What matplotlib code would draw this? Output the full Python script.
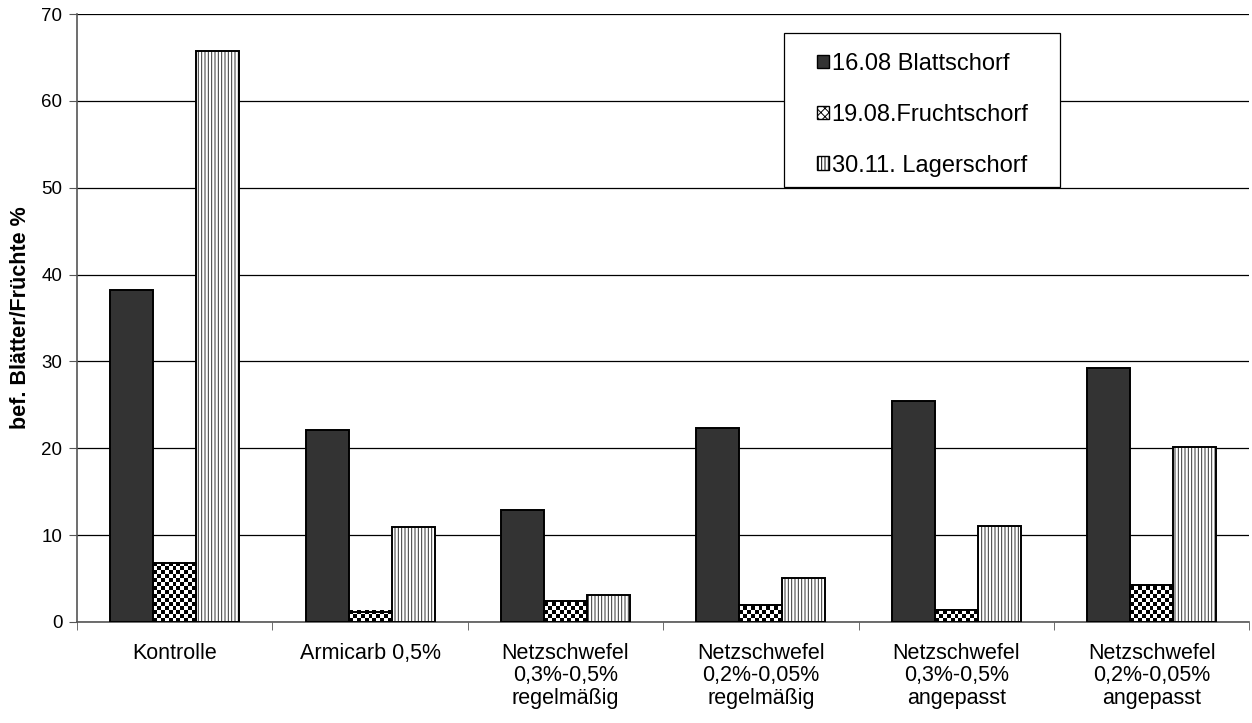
import numpy as np
import matplotlib
matplotlib.use("Agg")
import matplotlib.pyplot as plt
from matplotlib.patches import Patch, Rectangle

plt.rcParams['font.family'] = ['Liberation Sans', 'DejaVu Sans']
plt.rcParams['hatch.linewidth'] = 0.7

# Daten
categories = ["Kontrolle", "Armicarb 0,5%", "Netzschwefel\n0,3%-0,5%\nregelmäßig",
              "Netzschwefel\n0,2%-0,05%\nregelmäßig", "Netzschwefel\n0,3%-0,5%\nangepasst",
              "Netzschwefel\n0,2%-0,05%\nangepasst"]
blattschorf = [38.2, 22.1, 12.9, 22.3, 25.4, 29.2]
fruchtschorf = [6.8, 1.2, 2.4, 1.9, 1.4, 4.3]
lagerschorf = [65.7, 10.9, 3.1, 5.1, 11.0, 20.1]
series_labels = ["16.08 Blattschorf", "19.08.Fruchtschorf", "30.11. Lagerschorf"]

x = np.arange(len(categories))
width = 0.22

fig = plt.figure(figsize=(12.52, 7.23), dpi=100)
ax = fig.add_axes([0.0615, 0.1397, 0.9365, 0.8409])
ax.set_xlim(-0.5, len(categories) - 0.5)
ax.set_ylim(0, 70)

# Gitterlinien
ax.set_yticks(np.arange(0, 71, 10))
ax.yaxis.grid(True, color="black", linewidth=0.9, zorder=0)
ax.set_axisbelow(True)

# Balken
ax.bar(x - width, blattschorf, width, color="#333333", edgecolor="black",
       linewidth=1.4, zorder=3)
checker = ax.bar(x, fruchtschorf, width, color="white", edgecolor="black",
                 linewidth=1.4, zorder=2)
ax.bar(x + width, lagerschorf, width, color="white", edgecolor="#333333",
       hatch="|||||", linewidth=0, zorder=3)
ax.bar(x + width, lagerschorf, width, fill=False, edgecolor="black",
       linewidth=1.4, zorder=4)

# Schachbrettmuster fuer die Fruchtschorf-Balken
fig.canvas.draw()
for rect in checker:
    x0, y0 = rect.get_x(), rect.get_y()
    w, h = rect.get_width(), rect.get_height()
    p0 = ax.transData.transform((x0, y0))
    p1 = ax.transData.transform((x0 + w, y0 + h))
    nx = max(1, int(round((p1[0] - p0[0]) / 4)))
    ny = max(1, int(round((p1[1] - p0[1]) / 4)))
    ii, jj = np.indices((ny, nx))
    arr = (ii + jj) % 2
    ax.imshow(arr, extent=[x0, x0 + w, y0, y0 + ny * 4 * h / (p1[1] - p0[1])],
              cmap="gray", vmin=0, vmax=1, aspect="auto",
              interpolation="nearest", origin="lower", clip_path=rect, zorder=2.5)
ax.bar(x, fruchtschorf, width, fill=False, edgecolor="black", linewidth=1.4, zorder=4)
ax.set_xlim(-0.5, len(categories) - 0.5)
ax.set_ylim(0, 70)

# Achsen
ax.set_xticks(x)
ax.set_xticklabels(categories, fontsize=15.5, linespacing=1.1)
ax.set_xticks(np.arange(-0.5, len(categories)), minor=True)
ax.tick_params(axis="x", which="major", length=0, pad=15)
ax.tick_params(axis="x", which="minor", length=6, direction="out", color="#555555")
ax.tick_params(axis="y", length=6, direction="out", labelsize=13.5, color="#555555", pad=4.5)
for s in ["top", "right"]:
    ax.spines[s].set_visible(False)
for s in ["left", "bottom"]:
    ax.spines[s].set_color("#555555")
    ax.spines[s].set_linewidth(1.2)

ax.set_ylabel("bef. Blätter/Früchte %", fontsize=15.5, fontweight="bold")
ax.yaxis.set_label_coords(-0.0395, 0.5)

# Legende mit eigenem Rahmen
ax.add_patch(Rectangle((0.603, 0.7155), 0.2354, 0.2533, transform=ax.transAxes,
                       facecolor="white", edgecolor="black", linewidth=0.9, zorder=5))
handles = [Patch(facecolor="#333333", edgecolor="black"),
           Patch(facecolor="white", edgecolor="black", hatch="xxxx"),
           Patch(facecolor="white", edgecolor="black", hatch="|||||")]
leg = ax.legend(handles, series_labels, loc="upper left", bbox_to_anchor=(0.6311, 0.936),
                fontsize=17, frameon=False, handlelength=0.5, handleheight=0.5,
                handletextpad=0.12, labelspacing=1.22, borderpad=0, borderaxespad=0)
leg.set_zorder(6)

plt.savefig("out.png", dpi=100)
